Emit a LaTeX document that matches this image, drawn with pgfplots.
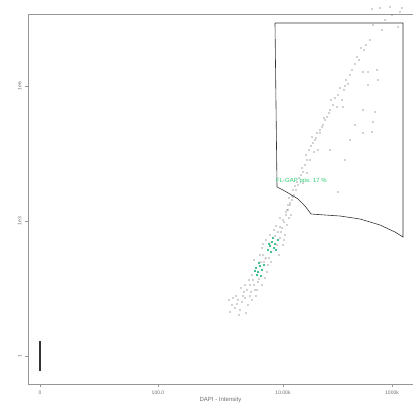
\documentclass[border=0pt]{standalone}
\usepackage{pgfplots}
\pgfplotsset{compat=1.18}
\usepackage{pgfplotstable}
\usepackage{fontspec}
\setsansfont{Liberation Sans}
\definecolor{axgray}{RGB}{150,150,150}
\definecolor{txtgray}{RGB}{110,110,110}
\definecolor{gategreen}{RGB}{40,200,110}
\definecolor{dotgreen}{RGB}{30,180,120}
\definecolor{dotpink}{RGB}{235,150,170}

% positions measured in picture units (x to the right, y downwards)
\pgfplotstableread{
x y
230 312
232 305
235 308
238 300
236 296
240 310
242 302
245 298
244 292
248 305
233 298
239 315
247 290
250 296
241 288
252 300
229 300
246 313
237 304
243 296
250 285
253 280
255 290
258 282
262 285
265 278
264 262
266 258
268 265
263 255
267 272
252 275
254 260
260 255
262 248
266 240
270 235
274 230
278 232
280 238
276 226
282 228
284 222
280 218
286 215
288 210
283 245
279 255
285 235
290 205
292 200
289 198
294 195
296 190
298 185
291 215
287 225
269 258
257 290
249 280
283 220
280 227
287 210
290 203
293 197
286 212
288 205
292 196
293 190
295 186
297 182
299 178
301 175
303 172
302 168
305 165
307 160
306 155
309 150
311 146
313 143
315 140
312 137
317 133
318 150
320 130
322 127
320 133
323 125
325 120
327 117
329 113
330 110
333 105
337 107
343 107
342 100
340 88
338 95
346 80
345 86
350 75
352 70
357 57
363 72
368 72
377 70
368 85
378 80
364 50
366 45
370 40
373 25
382 30
398 27
363 110
375 112
373 122
372 132
363 133
355 125
350 140
338 192
330 150
345 160
385 20
392 15
400 12
380 8
390 7
402 8
372 9
303 183
307 173
310 160
254 285
259 279
261 262
263 244
271 262
275 236
277 245
281 232
284 240
289 218
256 296
251 292
245 285
314 152
316 138
324 118
331 100
335 98
344 90
348 84
355 64
359 60
361 48
}\blackdots

\pgfplotstableread{
x y
256 268
258 272
260 266
257 275
262 270
259 263
255 271
261 276
270 246
272 242
274 248
268 250
271 252
275 244
273 238
276 250
269 244
278 240
264 265
}\greendots

\pgfplotstableread{
x y
270 243
265 259
}\pinkdots

\pgfplotstableread{
x y
275 23
403 23
403 237
395 232
380 225
360 219
340 216
325 215
311 214
305 206
298 199
290 194
283 190
277 187
275 23
}\gate

\begin{document}
\begin{tikzpicture}
\begin{axis}[
  scale only axis,
  width=385pt, height=370pt,
  xmin=28, xmax=413,
  ymin=14, ymax=384,
  y dir=reverse,
  clip=false,
  axis x line*=box,
  axis y line*=left,
  axis line style={axgray, line width=0.9pt, -},
  tick style={axgray, line width=0.6pt},
  tick align=outside,
  xtick pos=bottom,
  ytick pos=left,
  major tick length=3pt,
  xtick={40,158,283,392},
  xticklabels={0,100.0,10.00k,1000k},
  ytick={86,221,356},
  yticklabels={1e6,1e3,1},
  x tick label style={font=\fontsize{5}{6}\selectfont\sffamily, text=txtgray},
  y tick label style={font=\fontsize{5}{6}\selectfont\sffamily, text=txtgray, rotate=90, anchor=south},
  xticklabel pos=bottom,
  xlabel={DAPI - Intensity},
  xlabel style={font=\fontsize{6}{7}\selectfont\sffamily, text=txtgray, yshift=4pt},
]
\path[use as bounding box] (axis cs:0,0) rectangle (axis cs:413,415);
\addplot[only marks, mark=*, mark size=0.35pt, black!60] table[x=x,y=y] {\blackdots};
\addplot[only marks, mark=*, mark size=0.4pt, dotpink] table[x=x,y=y] {\pinkdots};
\addplot[only marks, mark=*, mark size=0.8pt, dotgreen] table[x=x,y=y] {\greendots};
\addplot[black!80, line width=0.6pt] table[x=x,y=y] {\gate};
\addplot[black!80, line width=1.1pt] coordinates {(40,341) (40,371)};
\node[anchor=west, text=gategreen, font=\fontsize{6}{7}\selectfont\sffamily, inner sep=0pt] at (axis cs:276,181) {FL-GAP pos: 17 \%};
\end{axis}
\end{tikzpicture}
\end{document}
